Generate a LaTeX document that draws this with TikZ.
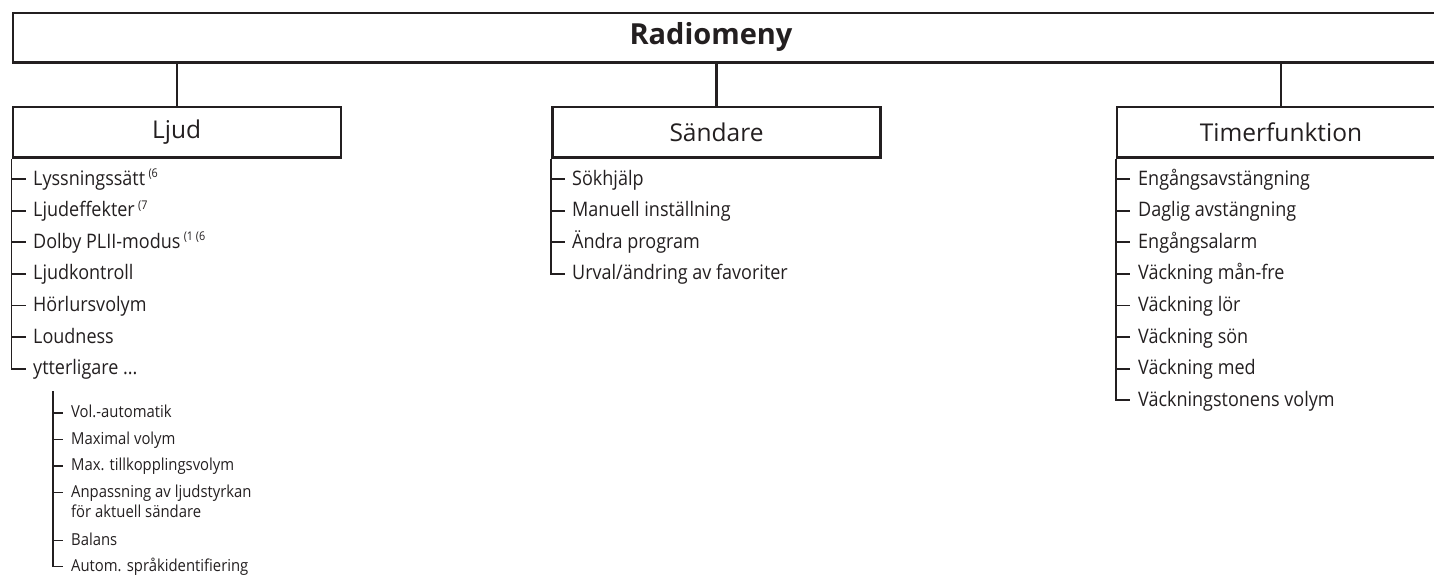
\documentclass[tikz,border=0pt]{standalone}
\usepackage{fontspec}
\setmainfont{Open Sans}
\newfontfamily\narrowfont[FakeStretch=0.9]{Open Sans}
\definecolor{ink}{RGB}{35,31,32}
\newcommand\supnote[1]{\,\raisebox{0.7ex}{\fontsize{12}{12}\selectfont #1}}
\tikzset{
  box/.style={draw=ink, line width=2.4pt, inner sep=0pt, text=ink,
    minimum width=328pt, minimum height=50.5pt, font=\fontsize{24.5}{24.5}\selectfont},
  conn/.style={draw=ink, line width=2.2pt},
  tree/.style={draw=ink, line width=1.8pt},
  item/.style={anchor=base west, inner sep=0pt, text=ink, font=\narrowfont\fontsize{20}{20}\selectfont},
  sitem/.style={anchor=base west, inner sep=0pt, text=ink, font=\narrowfont\fontsize{16.5}{16.5}\selectfont},
}
\begin{document}
\begin{tikzpicture}[x=1pt,y=-1pt]
\useasboundingbox (0,0) rectangle (1434,576);
\clip (0,0) rectangle (1434,576);
% root
\node[box, minimum width=1440pt, minimum height=49.5pt, anchor=north west] (root) at (11.7,11.7) {};
\node[inner sep=0pt, text=ink, font=\fontsize{29}{29}\selectfont\bfseries] (rootlbl) at (711,36.5) {Radiomeny};
% level 1
\node[box] (ljud) at (176.7,132.3) {Ljud};
\node[box] (send) at (716.5,132.3) {Sändare};
\node[box] (timer) at (1281,132.3) {Timerfunktion};
\draw[conn] (root.south -| ljud.north) -- (ljud.north);
\draw[conn] (root.south -| send.north) -- (send.north);
\draw[conn] (root.south -| timer.north) -- (timer.north);
% Ljud list
\node[item] (l1) at (33,185) {Lyssningssätt\supnote{(6}};
\node[item] (l2) at (33,216.6) {Ljudeffekter\supnote{(7}};
\node[item] (l3) at (33,248.2) {Dolby PLII-modus\supnote{(1 (6}};
\node[item] (l4) at (33,279.8) {Ljudkontroll};
\node[item] (l5) at (33,311.4) {Hörlursvolym};
\node[item] (l6) at (33,343) {Loudness};
\node[item] (l7) at (33,374.6) {ytterligare ...};
\foreach \n in {l1,l2,l3,l4,l5,l6,l7}{
  \coordinate (\n-t) at ([xshift=-7pt,yshift=6pt]\n.base west);
}
\foreach \n in {l1,l2,l3,l4,l5,l6}{
  \draw[tree] (ljud.south west |- \n-t) -- (\n-t);
}
\draw[tree] (ljud.south west) |- (l7-t);
% sub list
\coordinate (subtop) at (53,391);
\node[sitem] (s1) at (71,417.5) {Vol.-automatik};
\node[sitem] (s2) at (71,444) {Maximal volym};
\node[sitem] (s3) at (71,470.5) {Max. tillkopplingsvolym};
\node[sitem] (s4) at (71,497) {Anpassning av ljudstyrkan};
\node[sitem] (s4b) at (71,517.5) {för aktuell sändare};
\node[sitem] (s5) at (71,545) {Balans};
\node[sitem] (s6) at (71,571) {Autom. språkidentifiering};
\foreach \n in {s1,s2,s3,s4,s5,s6}{
  \coordinate (\n-t) at ([xshift=-8pt,yshift=4.5pt]\n.base west);
}
\foreach \n in {s1,s2,s3,s4,s5}{
  \draw[tree] (subtop |- \n-t) -- (\n-t);
}
\draw[tree] (subtop) |- (s6-t);
% Sändare list
\node[item] (m1) at (572,185) {Sökhjälp};
\node[item] (m2) at (572,216.6) {Manuell inställning};
\node[item] (m3) at (572,248.2) {Ändra program};
\node[item] (m4) at (572,279.8) {Urval/ändring av favoriter};
\foreach \n in {m1,m2,m3,m4}{
  \coordinate (\n-t) at ([xshift=-7pt,yshift=6pt]\n.base west);
}
\foreach \n in {m1,m2,m3}{
  \draw[tree] (send.south west |- \n-t) -- (\n-t);
}
\draw[tree] (send.south west) |- (m4-t);
% Timer list
\node[item] (t1) at (1138,185) {Engångsavstängning};
\node[item] (t2) at (1138,216.6) {Daglig avstängning};
\node[item] (t3) at (1138,248.2) {Engångsalarm};
\node[item] (t4) at (1138,279.8) {Väckning mån-fre};
\node[item] (t5) at (1138,311.4) {Väckning lör};
\node[item] (t6) at (1138,343) {Väckning sön};
\node[item] (t7) at (1138,374.6) {Väckning med};
\node[item] (t8) at (1138,406.2) {Väckningstonens volym};
\foreach \n in {t1,t2,t3,t4,t5,t6,t7,t8}{
  \coordinate (\n-t) at ([xshift=-8pt,yshift=6pt]\n.base west);
}
\foreach \n in {t1,t2,t3,t4,t5,t6,t7}{
  \draw[tree] (timer.south west |- \n-t) -- (\n-t);
}
\draw[tree] (timer.south west) |- (t8-t);
\end{tikzpicture}
\end{document}
